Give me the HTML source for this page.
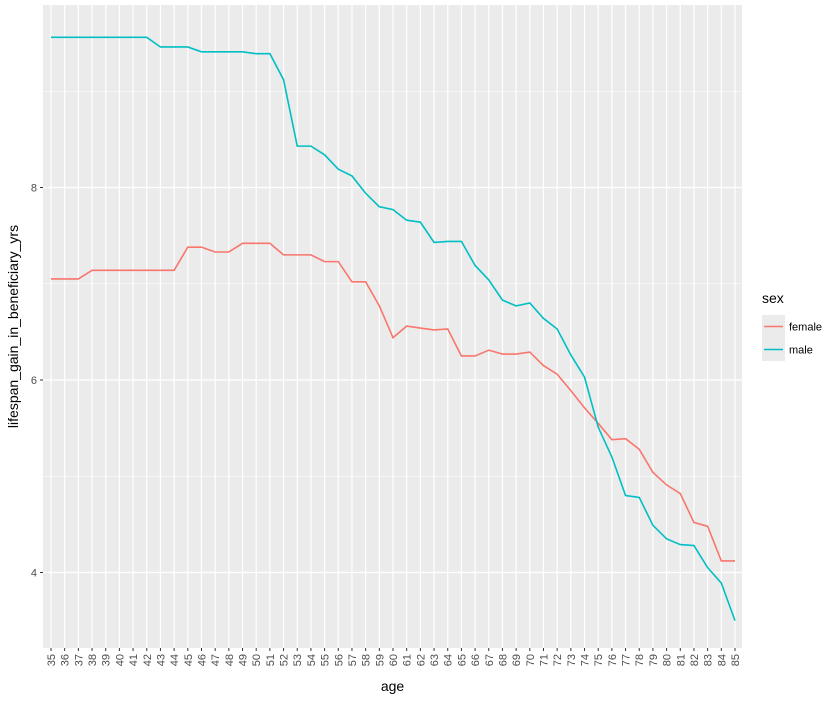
<!DOCTYPE html>
<html><head><meta charset="utf-8"><style>
body{margin:0;background:#fff;font-family:"Liberation Sans",sans-serif}
</style></head><body>
<svg id="c" width="840" height="701" xmlns="http://www.w3.org/2000/svg"></svg>
<script>
const ages=[];for(let a=35;a<=85;a++)ages.push(a);
const female=[7.05,7.05,7.05,7.14,7.14,7.14,7.14,7.14,7.14,7.14,7.38,7.38,7.33,7.33,7.42,7.42,7.42,7.30,7.30,7.30,7.23,7.23,7.02,7.02,6.77,6.44,6.56,6.54,6.52,6.53,6.25,6.25,6.31,6.27,6.27,6.29,6.15,6.06,5.89,5.71,5.55,5.38,5.39,5.28,5.04,4.91,4.82,4.52,4.48,4.12,4.12];
const male=[9.56,9.56,9.56,9.56,9.56,9.56,9.56,9.56,9.46,9.46,9.46,9.41,9.41,9.41,9.41,9.39,9.39,9.12,8.43,8.43,8.34,8.19,8.12,7.94,7.80,7.77,7.66,7.64,7.43,7.44,7.44,7.19,7.04,6.83,6.77,6.80,6.64,6.53,6.26,6.03,5.51,5.20,4.80,4.78,4.49,4.35,4.29,4.28,4.05,3.89,3.50];
const yTicks=[4,6,8];
const NS="http://www.w3.org/2000/svg";
const svg=document.getElementById('c');
const L=43,R=742,T=5,B=648;
const xs=a=>51+(a-35)*(735-51)/50;
const ys=v=>380-(v-6)*96.25;
function el(t,at,p){const e=document.createElementNS(NS,t);for(const k in at)e.setAttribute(k,at[k]);(p||svg).appendChild(e);return e;}
const bg=el('rect',{x:L,y:T,width:R-L,height:B-T,fill:'#ebebeb'});


// minor y grid
for(let i=0;i<yTicks.length-1;i++){const v=(yTicks[i]+yTicks[i+1])/2;el('line',{x1:L,x2:R,y1:ys(v),y2:ys(v),stroke:'#fff','stroke-width':0.6});}
[3,9].forEach(v=>{el('line',{x1:L,x2:R,y1:ys(v),y2:ys(v),stroke:'#fff','stroke-width':0.6});});
yTicks.forEach(v=>{
const g=el('line',{x1:L,x2:R,y1:ys(v),y2:ys(v),stroke:'#fff','stroke-width':1.2});


el('line',{x1:L-3,x2:L,y1:ys(v),y2:ys(v),stroke:'#333','stroke-width':1});
const t=el('text',{x:L-6,y:ys(v)+4,'text-anchor':'end','font-size':11,fill:'#4d4d4d'});t.textContent=v;


});
ages.forEach(a=>{
const g=el('line',{x1:xs(a),x2:xs(a),y1:T,y2:B,stroke:'#fff','stroke-width':1.2});


el('line',{x1:xs(a),x2:xs(a),y1:B,y2:B+3,stroke:'#333','stroke-width':1});
const t=el('text',{x:0,y:0,'text-anchor':'end','font-size':11,fill:'#4d4d4d',transform:`translate(${xs(a)+4},${B+6}) rotate(-90)`});t.textContent=a;


});
function line(vals,col,name){
const p=el('polyline',{points:vals.map((v,i)=>xs(ages[i])+','+ys(v)).join(' '),fill:'none',stroke:col,'stroke-width':1.6});


}
line(female,'#f8766d','line-female');
line(male,'#00bfc4','line-male');
const xt=el('text',{x:(L+R)/2,y:691,'text-anchor':'middle','font-size':14,fill:'#000'});xt.textContent='age';


const yt=el('text',{x:0,y:0,'text-anchor':'middle','font-size':14,fill:'#000',transform:`translate(18,${(T+B)/2}) rotate(-90)`});yt.textContent='lifespan_gain_in_beneficiary_yrs';


const lt=el('text',{x:762,y:303,'font-size':14,fill:'#000'});lt.textContent='sex';


[['female','#f8766d',315],['male','#00bfc4',338]].forEach(([n,c,y])=>{
const g=el('g',{});


el('rect',{x:762,y:y,width:23,height:23,fill:'#ebebeb'},g);
el('line',{x1:764,x2:783,y1:y+11.5,y2:y+11.5,stroke:c,'stroke-width':1.6},g);
const t=el('text',{x:789,y:y+15.5,'font-size':11,fill:'#000'},g);t.textContent=n;
});
</script>
</body></html>
